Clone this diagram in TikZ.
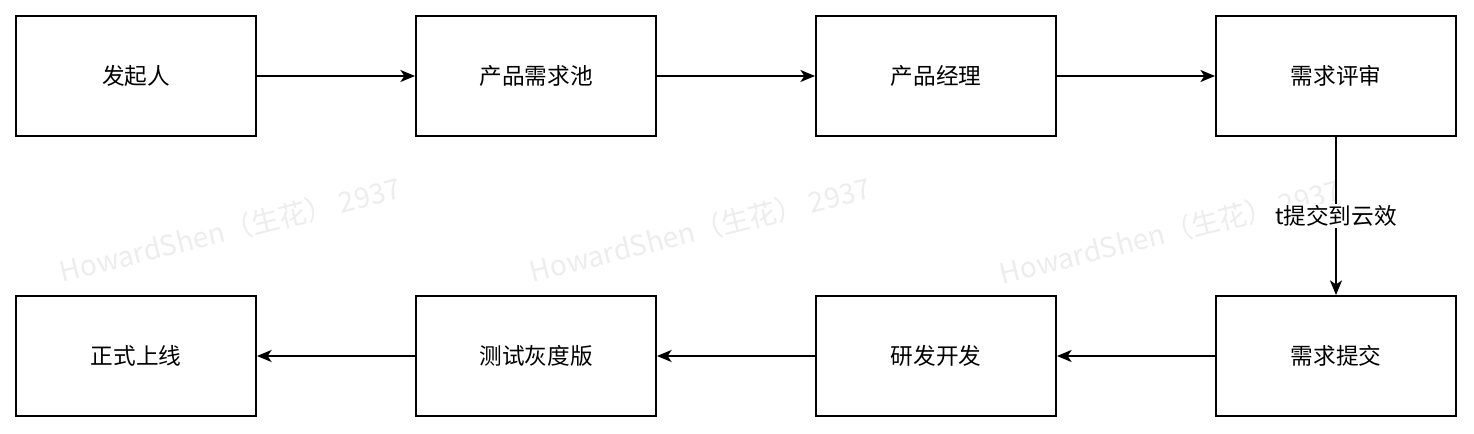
\documentclass[tikz,border=0pt]{standalone}
\usepackage{fontspec}
\setmainfont{Noto Sans CJK SC}
\newfontfamily\cjk{Noto Sans CJK SC}
\usetikzlibrary{arrows.meta}
\tikzset{
  boxnode/.style={draw, line width=1.4pt, minimum width=180pt, minimum height=90pt, inner sep=0pt, font=\cjk\fontsize{17}{20}\selectfont},
  flow/.style={line width=1.4pt, -{Stealth[length=11pt, width=9pt, inset=3pt]}},
  wmark/.style={text=black!7, rotate=14, font=\cjk\fontsize{21}{24}\selectfont}
}
\begin{document}
\begin{tikzpicture}[x=0.75pt, y=-0.75pt]
    \useasboundingbox (0,0) rectangle (1474,434);
    % watermark
    \node[wmark] (wm1) at (230,230) {HowardShen（生花） 2937};
    \node[wmark] (wm2) at (700,230) {HowardShen（生花） 2937};
    \node[wmark] (wm3) at (1170,232) {HowardShen（生花） 2937};
    % upper row
    \node[boxnode] (faqi) at (136,76) {发起人};
    \node[boxnode] (chi) at (536,76) {产品需求池};
    \node[boxnode] (jingli) at (936,76) {产品经理};
    \node[boxnode] (pingshen) at (1336,76) {需求评审};
    % lower row
    \node[boxnode] (tijiao) at (1336,356) {需求提交};
    \node[boxnode] (kaifa) at (936,356) {研发开发};
    \node[boxnode] (ceshi) at (536,356) {测试灰度版};
    \node[boxnode] (shangxian) at (136,356) {正式上线};
    \draw[flow] (faqi)--(chi);
    \draw[flow] (chi)--(jingli);
    \draw[flow] (jingli)--(pingshen);
    \draw[flow] (pingshen)--(tijiao) node[pos=0.5, fill=white, inner sep=1pt, font=\cjk\fontsize{17}{20}\selectfont]{t提交到云效};
    \draw[flow] (tijiao)--(kaifa);
    \draw[flow] (kaifa)--(ceshi);
    \draw[flow] (ceshi)--(shangxian);
\end{tikzpicture}
\end{document}
